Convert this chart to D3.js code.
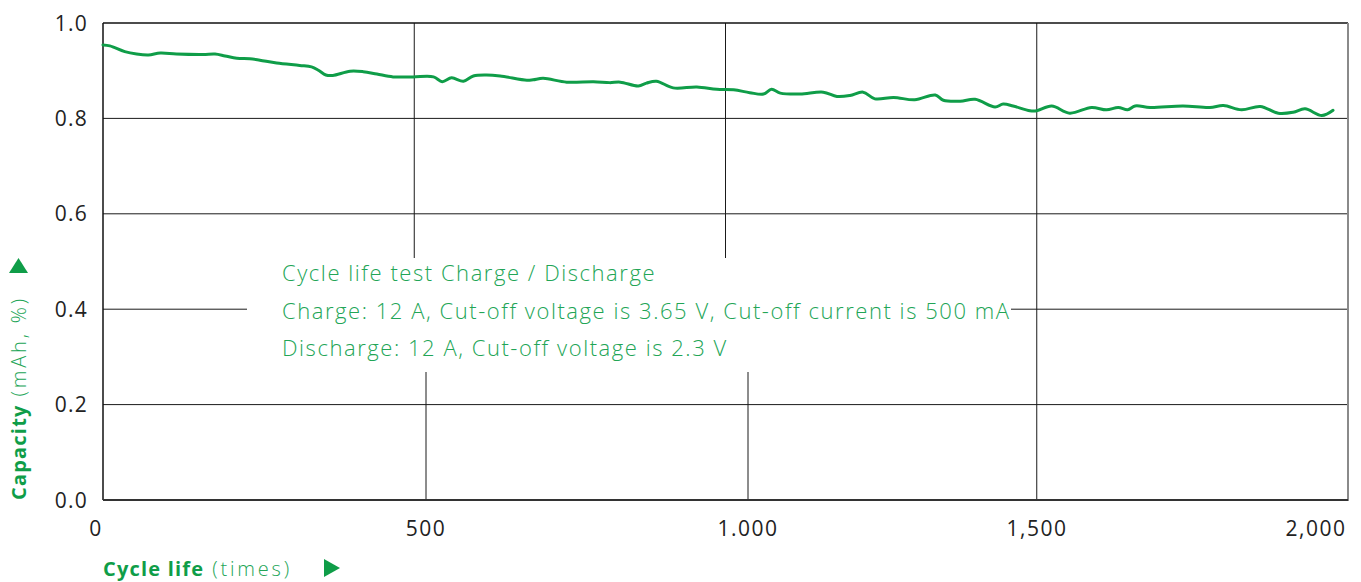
<!DOCTYPE html>
<html>
<head>
<meta charset="utf-8">
<script src="https://cdn.jsdelivr.net/npm/d3@7"></script>
<style>
  html, body { margin: 0; padding: 0; background: #fff; }
  svg { display: block; font-family: "Open Sans", Roboto, sans-serif; }
</style>
</head>
<body>
<svg id="chart" width="1361" height="582"></svg>
<script>
// ---- data ----
const cycles = [0, 11, 35, 54, 73, 92, 118, 161, 180, 196, 215, 236, 252, 279, 316, 335, 346, 358, 369, 397,
  418, 440, 466, 498, 531, 545, 560, 579, 595, 616, 638, 681, 691, 707, 745, 788, 814, 831, 860, 873,
  889, 916, 954, 986, 1013, 1039, 1061, 1074, 1088, 1120, 1157, 1179, 1200, 1221, 1240, 1270, 1304, 1337, 1350, 1377,
  1401, 1433, 1446, 1462, 1489, 1500, 1524, 1553, 1588, 1612, 1631, 1646, 1658, 1682, 1735, 1778, 1800, 1829, 1859, 1888,
  1912, 1931, 1958, 1976];
const capacity = [0.954, 0.952, 0.940, 0.935, 0.933, 0.937, 0.935, 0.934, 0.935, 0.931, 0.926, 0.925, 0.922, 0.916, 0.911, 0.908, 0.901, 0.891, 0.890, 0.899,
  0.898, 0.893, 0.887, 0.887, 0.887, 0.877, 0.885, 0.878, 0.889, 0.891, 0.889, 0.880, 0.881, 0.884, 0.876, 0.877, 0.875, 0.876, 0.868, 0.874,
  0.878, 0.864, 0.866, 0.861, 0.860, 0.854, 0.851, 0.861, 0.853, 0.851, 0.855, 0.846, 0.848, 0.855, 0.841, 0.844, 0.839, 0.849, 0.838, 0.836,
  0.840, 0.824, 0.830, 0.826, 0.816, 0.816, 0.826, 0.811, 0.823, 0.818, 0.823, 0.818, 0.826, 0.823, 0.826, 0.823, 0.827, 0.818, 0.825, 0.811,
  0.813, 0.820, 0.806, 0.817];
const yTicks = [0, 0.2, 0.4, 0.6, 0.8, 1.0];
const xTicks = [0, 500, 1000, 1500, 2000];
const xTickLabels = ["0", "500", "1.000", "1,500", "2,000"];
const noteLines = [
  "Cycle life test Charge / Discharge",
  "Charge: 12 A, Cut-off voltage is 3.65 V, Cut-off current is 500 mA",
  "Discharge: 12 A, Cut-off voltage is 2.3 V"
];

// ---- layout ----
const green = "#0f9d48";
const noteGreen = "#22a556";
const M = { left: 103, right: 1348, top: 23, bottom: 500 };
const svg = d3.select("#chart");

const x = d3.scaleLinear().domain([0, 2000]).range([M.left, M.right]);
const y = d3.scaleLinear().domain([0, 1]).range([M.bottom, M.top]);
// the printed axis places its labels unevenly
const xAxisPos = d3.scaleLinear().domain(xTicks).range([96, 426, 748, 1037, 1316]);

const box = { x0: 247, x1: 1011, y0: 258, y1: 372 };

// horizontal gridlines
svg.append("g").selectAll("line").data(yTicks.filter(d => d > 0 && d < 1)).join("line")
  .attr("x1", M.left).attr("x2", M.right)
  .attr("y1", d => y(d)).attr("y2", d => y(d))
  .attr("stroke", "#1a1a1a").attr("stroke-width", 1);

// white panel behind the note
svg.append("rect").attr("x", box.x0).attr("y", box.y0)
  .attr("width", box.x1 - box.x0).attr("height", box.y1 - box.y0).attr("fill", "#fff");

// vertical gridlines (upper part follows data scale, lower part follows printed axis)
const inner = xTicks.filter(d => d > 0 && d < 1500);
svg.append("g").selectAll("line").data(inner).join("line")
  .attr("x1", d => x(d)).attr("x2", d => x(d))
  .attr("y1", M.top).attr("y2", box.y0)
  .attr("stroke", "#1a1a1a").attr("stroke-width", 1);
svg.append("g").selectAll("line").data(inner).join("line")
  .attr("x1", d => xAxisPos(d)).attr("x2", d => xAxisPos(d))
  .attr("y1", box.y1).attr("y2", M.bottom)
  .attr("stroke", "#1a1a1a").attr("stroke-width", 1);
svg.append("line")
  .attr("x1", x(1500)).attr("x2", x(1500)).attr("y1", M.top).attr("y2", M.bottom)
  .attr("stroke", "#1a1a1a").attr("stroke-width", 1);

// frame
svg.append("line").attr("x1", M.left).attr("x2", M.right).attr("y1", M.top).attr("y2", M.top)
  .attr("stroke", "#111").attr("stroke-width", 1.5);
svg.append("line").attr("x1", M.left).attr("x2", M.left).attr("y1", M.top).attr("y2", M.bottom)
  .attr("stroke", "#111").attr("stroke-width", 1.5);
svg.append("line").attr("x1", M.right).attr("x2", M.right).attr("y1", M.top).attr("y2", M.bottom + 1)
  .attr("stroke", "#8a8a8a").attr("stroke-width", 2);
svg.append("line").attr("x1", M.left).attr("x2", M.right).attr("y1", M.bottom).attr("y2", M.bottom)
  .attr("stroke", "#333").attr("stroke-width", 1.8);

// note text
svg.append("g").selectAll("text").data(noteLines).join("text")
  .attr("x", 282).attr("y", (d, i) => 281 + i * 37.5)
  .attr("font-size", 22).attr("font-weight", 300).attr("letter-spacing", 1.55).attr("fill", noteGreen)
  .text(d => d);

// data line
const pts = cycles.map((c, i) => [c, capacity[i]]);
svg.append("path").datum(pts)
  .attr("fill", "none").attr("stroke", green).attr("stroke-width", 3)
  .attr("stroke-linejoin", "round").attr("stroke-linecap", "round")
  .attr("d", d3.line().x(d => x(d[0])).y(d => y(d[1])).curve(d3.curveCatmullRom.alpha(0.5)));

// y tick labels
svg.append("g").selectAll("text").data(yTicks).join("text")
  .attr("x", 88).attr("y", d => y(d)).attr("dy", "0.36em")
  .attr("text-anchor", "end").attr("font-size", 21).attr("letter-spacing", 1.2).attr("fill", "#222")
  .text(d => d.toFixed(1));

// x tick labels
svg.append("g").selectAll("text").data(xTicks).join("text")
  .attr("x", d => xAxisPos(d)).attr("y", 536)
  .attr("text-anchor", "middle").attr("font-size", 21).attr("letter-spacing", 1.5).attr("fill", "#222")
  .text((d, i) => xTickLabels[i]);

// x axis title
const xt = svg.append("text").attr("x", 103).attr("y", 576).attr("font-size", 20)
  .attr("letter-spacing", 1.2).attr("fill", green);
xt.append("tspan").attr("font-weight", 700).text("Cycle life");
xt.append("tspan").attr("font-weight", 300).attr("fill", noteGreen).attr("letter-spacing", 2.8).text(" (times)");
svg.append("path").attr("d", "M324,559 L340,568 L324,577 Z").attr("fill", green);

// y axis title
const yt = svg.append("text").attr("transform", "translate(26,500) rotate(-90)")
  .attr("font-size", 20).attr("letter-spacing", 1.2).attr("fill", green);
yt.append("tspan").attr("font-weight", 700).text("Capacity");
yt.append("tspan").attr("font-weight", 300).attr("fill", noteGreen).attr("letter-spacing", 2.8).text(" (mAh, %)");
svg.append("path").attr("d", "M9,273 L18.5,258 L28,273 Z").attr("fill", green);
</script>
</body>
</html>
